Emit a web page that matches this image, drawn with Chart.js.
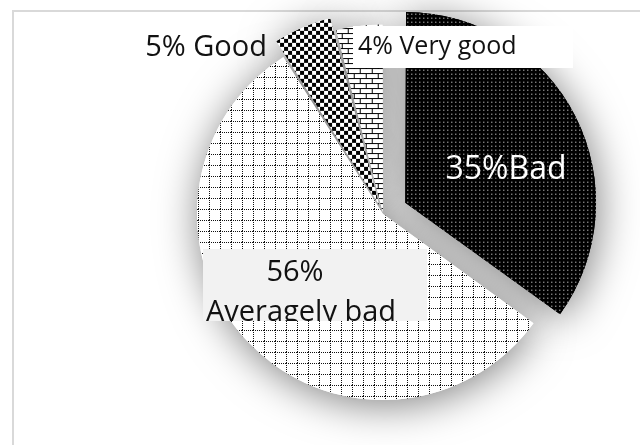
<!DOCTYPE html>
<html>
<head>
<meta charset="utf-8">
<script src="https://cdn.jsdelivr.net/npm/chart.js@4/dist/chart.umd.min.js"></script>
<style>
  html, body { margin: 0; padding: 0; background: #fff; overflow: hidden; }
  #wrap { position: relative; width: 640px; height: 445px; }
  #frame { position: absolute; left: 12px; top: 10px; width: 700px; height: 500px;
           border: 2px solid #d9d9d9; box-sizing: border-box; }
  canvas { position: absolute; left: 0; top: 0; }
</style>
</head>
<body>
<div id="wrap">
  <div id="frame"></div>
  <canvas id="pie" width="640" height="445"></canvas>
</div>
<script>
// Datos del gráfico
const categories = ["Bad", "Averagely bad", "Good", "Very good"];
const values = [35, 56, 5, 4];
const sliceLabels = ["35%Bad", "56%\nAveragely bad", "5% Good", "4% Very good"];

// Crear un patrón a partir de un pequeño lienzo
function makePattern(w, h, paint) {
  const c = document.createElement("canvas");
  c.width = w;
  c.height = h;
  const g = c.getContext("2d");
  paint(g);
  return g.createPattern(c, "repeat");
}

// Puntos blancos sobre negro
const dotsPattern = makePattern(4, 4, (g) => {
  g.fillStyle = "#000";
  g.fillRect(0, 0, 4, 4);
  g.fillStyle = "#fff";
  g.fillRect(1, 1, 1, 1);
});

// Cuadrícula punteada
const gridPattern = makePattern(11, 11, (g) => {
  g.fillStyle = "#fff";
  g.fillRect(0, 0, 11, 11);
  g.fillStyle = "#111";
  for (let i = 0; i < 11; i += 2) {
    g.fillRect(0, i, 1, 1);
    g.fillRect(i, 0, 1, 1);
  }
});

// Tablero de ajedrez
const checkerPattern = makePattern(8, 8, (g) => {
  g.fillStyle = "#fff";
  g.fillRect(0, 0, 8, 8);
  g.fillStyle = "#000";
  g.fillRect(0, 0, 4, 4);
  g.fillRect(4, 4, 4, 4);
});

// Ladrillos
const brickPattern = makePattern(12, 10, (g) => {
  g.fillStyle = "#fff";
  g.fillRect(0, 0, 12, 10);
  g.fillStyle = "#000";
  g.fillRect(0, 0, 12, 1);
  g.fillRect(0, 5, 12, 1);
  g.fillRect(0, 0, 1, 5);
  g.fillRect(6, 5, 1, 5);
});

// Sombra suave detrás de las porciones
const shadowPlugin = {
  id: "pieShadow",
  beforeDatasetsDraw(chart) {
    const ctx = chart.ctx;
    ctx.save();
    ctx.shadowColor = "rgba(0,0,0,0.5)";
    ctx.shadowBlur = 42;
    ctx.shadowOffsetX = 2;
    ctx.shadowOffsetY = 5;
    chart.getDatasetMeta(0).data.forEach((arc) => arc.draw(ctx));
    ctx.restore();
  },
};

// Etiquetas de cada porción (desplazamientos relativos al centro, línea base alfabética)
const labelLayout = [
  { size: 32, color: "#fff", align: "center", lines: [[123, -35]] },
  { size: 29, color: "#111", align: "center", box: [-180, 35, 224, 72, "#f2f2f2"], lines: [[-88, 67], [-82, 107]] },
  { size: 29, color: "#111", align: "right", lines: [[-116, -158]] },
  { size: 25, color: "#111", align: "left", box: [-30, -188, 220, 42, "#fff"], lines: [[-25, -160]] },
];

const labelPlugin = {
  id: "sliceLabels",
  afterDatasetsDraw(chart) {
    const ctx = chart.ctx;
    const arcs = chart.getDatasetMeta(0).data;
    const cx = arcs[1].x;
    const cy = arcs[1].y;
    labelLayout.forEach((lay, i) => {
      const parts = sliceLabels[i].split("\n");
      ctx.save();
      if (lay.box) {
        const [bx, by, bw, bh, fill] = lay.box;
        ctx.fillStyle = fill;
        ctx.fillRect(cx + bx, cy + by, bw, bh);
        ctx.beginPath();
        ctx.rect(cx + bx, cy + by, bw, bh);
        ctx.clip();
      }
      ctx.font = lay.size + "px 'Open Sans'";
      ctx.textBaseline = "alphabetic";
      ctx.fillStyle = lay.color;
      ctx.textAlign = lay.align;
      parts.forEach((t, j) => {
        const [dx, dy] = lay.lines[j];
        ctx.fillText(t, cx + dx, cy + dy);
      });
      ctx.restore();
    });
  },
};

new Chart(document.getElementById("pie"), {
  type: "pie",
  data: {
    labels: categories,
    datasets: [
      {
        data: values,
        backgroundColor: [dotsPattern, gridPattern, checkerPattern, brickPattern],
        borderWidth: 0,
        offset: [100, 0, 40, 8],
        clip: false,
      },
    ],
  },
  options: {
    responsive: false,
    animation: false,
    radius: 186,
    layout: { padding: { left: 126, right: 0, top: 0, bottom: 17 } },
    plugins: {
      legend: { display: false },
      tooltip: { enabled: false },
    },
  },
  plugins: [shadowPlugin, labelPlugin],
});
</script>
</body>
</html>
